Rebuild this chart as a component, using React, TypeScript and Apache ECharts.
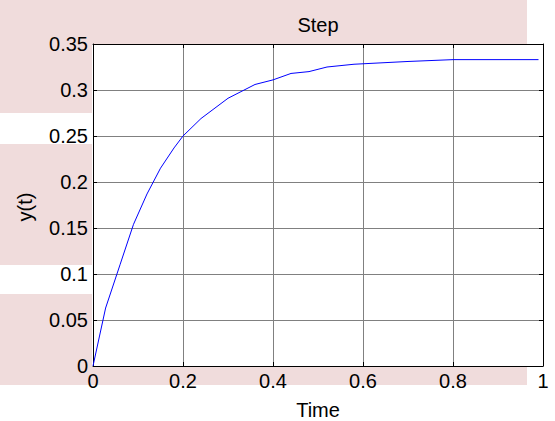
import React, { useEffect, useRef } from "react";
import * as echarts from "echarts";

const timeValues = [0, 0.028, 0.06, 0.09, 0.12, 0.15, 0.18, 0.2, 0.24, 0.3, 0.36, 0.4, 0.44, 0.48, 0.52, 0.58, 0.62, 0.7, 0.8, 0.99];
const yValues = [0, 0.063, 0.11, 0.154, 0.187, 0.215, 0.237, 0.25, 0.269, 0.291, 0.306, 0.311, 0.318, 0.32, 0.325, 0.328, 0.329, 0.331, 0.333, 0.333];

const FONT = "Liberation Sans, Arial, Helvetica, sans-serif";
const PINK = "#f0dcdc";
const FS = 20;

export default function App() {
  const ref = useRef<HTMLDivElement>(null);
  useEffect(() => {
    if (!ref.current) return;
    const chart = echarts.init(ref.current, undefined, { renderer: "svg" });
    const data = timeValues.map((t, i) => [t, yValues[i]]);
    const tick = { show: true, inside: true, length: 4, lineStyle: { color: "#000", width: 1 } };
    const axisLine = { show: true, onZero: false, lineStyle: { color: "#000", width: 1 } };
    const gridLine = { show: true, lineStyle: { color: "#808080", width: 1 } };
    chart.setOption({
      animation: false,
      backgroundColor: "#ffffff",
      textStyle: { fontFamily: FONT },
      grid: { left: 93, right: 12, top: 44, bottom: 55, containLabel: false },
      graphic: [
        { type: "rect", z: -10, silent: true, shape: { x: 0, y: 0, width: 527, height: 44 }, style: { fill: PINK } },
        { type: "rect", z: -10, silent: true, shape: { x: 0, y: 44, width: 92, height: 69 }, style: { fill: PINK } },
        { type: "rect", z: -10, silent: true, shape: { x: 0, y: 144, width: 92, height: 121 }, style: { fill: PINK } },
        { type: "rect", z: -10, silent: true, shape: { x: 0, y: 294, width: 92, height: 91 }, style: { fill: PINK } },
        { type: "rect", z: -10, silent: true, shape: { x: 92, y: 367, width: 435, height: 18 }, style: { fill: PINK } },
        { type: "text", z: 10, x: 318, y: 25, style: { text: "Step", fontFamily: FONT, fontSize: FS, fill: "#000", textAlign: "center", textVerticalAlign: "middle" } },
        { type: "text", z: 10, x: 318, y: 410, style: { text: "Time", fontFamily: FONT, fontSize: FS, fill: "#000", textAlign: "center", textVerticalAlign: "middle" } },
        { type: "text", z: 10, x: 25, y: 207, rotation: Math.PI / 2, style: { text: "y(t)", fontFamily: FONT, fontSize: FS, fill: "#000", textAlign: "center", textVerticalAlign: "middle" } },
      ],
      xAxis: [
        {
          type: "value", min: 0, max: 1, interval: 0.2, position: "bottom",
          axisLine, axisTick: tick, splitLine: gridLine,
          axisLabel: { color: "#000", fontSize: FS, fontFamily: FONT, margin: 5 },
        },
        {
          type: "value", min: 0, max: 1, interval: 0.2, position: "top",
          axisLine, axisTick: tick, splitLine: { show: false }, axisLabel: { show: false },
        },
      ],
      yAxis: [
        {
          type: "value", min: 0, max: 0.35, interval: 0.05, position: "left",
          axisLine, axisTick: tick, splitLine: gridLine,
          axisLabel: { color: "#000", fontSize: FS, fontFamily: FONT, margin: 5 },
        },
        {
          type: "value", min: 0, max: 0.35, interval: 0.05, position: "right",
          axisLine, axisTick: tick, splitLine: { show: false }, axisLabel: { show: false },
        },
      ],
      series: [
        {
          type: "line", data, xAxisIndex: 0, yAxisIndex: 0, showSymbol: false, symbol: "none",
          lineStyle: { color: "#0000ff", width: 1 }, silent: true,
        },
      ],
    });
    return () => chart.dispose();
  }, []);
  return <div ref={ref} style={{ position: "fixed", left: 0, top: 0, width: 555, height: 421 }} />;
}
